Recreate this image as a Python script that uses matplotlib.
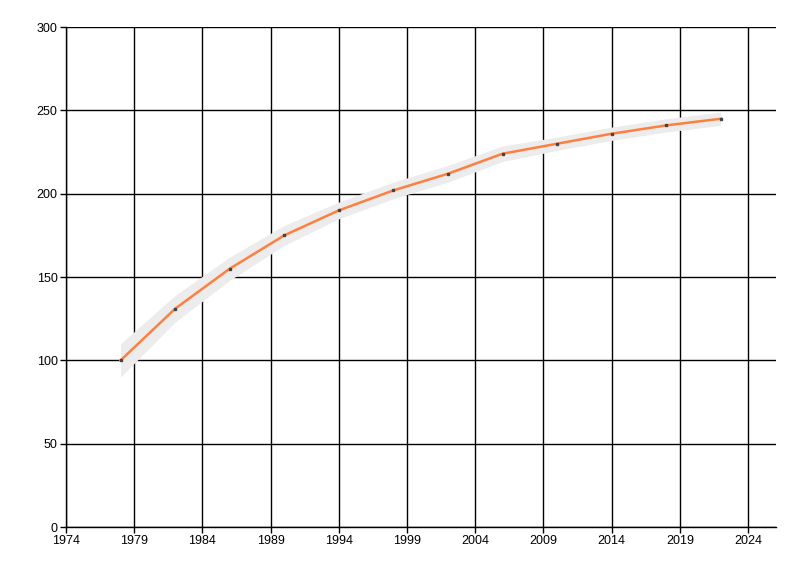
import matplotlib
matplotlib.use("Agg")
import matplotlib.pyplot as plt

# values
years = [1978, 1982, 1986, 1990, 1994, 1998, 2002, 2006, 2010, 2014, 2018, 2022]
values = [100, 131, 155, 175, 190, 202, 212, 224, 230, 236, 241, 245]
spread = [10, 8, 7, 6, 5, 5, 5, 4.7, 4, 4, 4, 4]
lower = [v - s for v, s in zip(values, spread)]
upper = [v + s for v, s in zip(values, spread)]
xticks = list(range(1974, 2025, 5))
yticks = list(range(0, 301, 50))

plt.rcParams['font.family'] = ['Liberation Sans', 'DejaVu Sans']

fig = plt.figure(figsize=(8, 5.76), dpi=100)
ax = fig.add_axes([0.0825, 0.085, 0.8875, 0.868])

ax.set_xlim(1974, 2026.05)
ax.set_ylim(0, 300)
ax.set_xticks(xticks)
ax.set_yticks(yticks)
ax.grid(True, color='black', linewidth=1, zorder=0)
ax.set_axisbelow(True)

ax.fill_between(years, lower, upper, color='#ececec', linewidth=0, zorder=2)
ax.plot(years, values, color='#ff7f40', linewidth=1.8, zorder=3)
ax.plot(years, values, linestyle='none', marker='s', markersize=2,
        color='#444444', zorder=4)

for side in ['top', 'right']:
    ax.spines[side].set_visible(False)
for side in ['left', 'bottom']:
    ax.spines[side].set_linewidth(1)
ax.tick_params(axis='both', length=4, width=1, labelsize=9, colors='black', pad=2)

fig.savefig('out.png', dpi=100)
